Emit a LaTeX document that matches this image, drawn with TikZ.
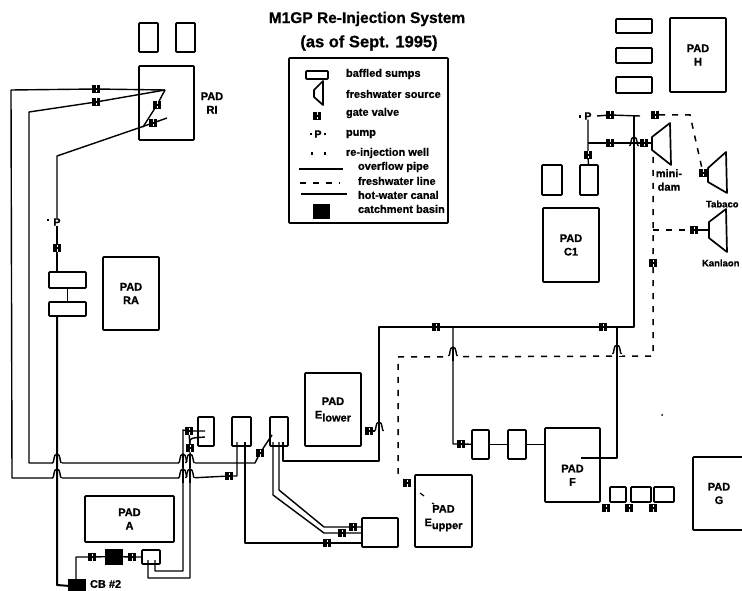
\documentclass[tikz,border=0pt]{standalone}
\usepackage{fontspec}
\setmainfont{Liberation Sans}[BoldFeatures={FakeBold=0.7}]
\begin{document}
\begin{tikzpicture}[x=1pt,y=-1pt,
  every node/.style={font=\fontsize{11}{13.5}\selectfont\bfseries,inner sep=0pt,outer sep=0pt},
  boxs/.style={draw=black,line width=1.7pt,fill=white,align=center,rounded corners=0.8pt},
  pipe/.style={draw=black,line width=1.4pt,line join=round},
  canal/.style={draw=black,line width=2pt,line join=round},
  fresh/.style={draw=black,line width=1.5pt,dash pattern=on 6pt off 7pt},
  tick/.style={draw=black,line width=1.2pt},
  basin/.style={fill=black,draw=black},
  dam/.style={draw=black,line width=1.7pt,line join=round},
  valve/.style={fill=black,minimum width=8pt,minimum height=8pt,path picture={
    \draw[white,line width=1pt] (path picture bounding box.north) ++(0,-0.5pt) -- ++(0,-2.2pt);
    \draw[white,line width=1pt] (path picture bounding box.south) ++(0,0.5pt) -- ++(0,2.2pt);}},
  lab/.style={anchor=west},
  pumpl/.style={font=\fontsize{10.5}{11}\selectfont\bfseries},
  edgelab/.style={anchor=west,font=\fontsize{9.5}{11}\selectfont\bfseries}
]
\newcommand\bx[6]{\node[boxs,minimum width={(#4-#2)*1pt},minimum height={(#5-#3)*1pt}] (#1) at ({(#2+#4)/2},{(#3+#5)/2}) {#6};}
\newcommand\bas[5]{\node[basin,minimum width={(#4-#2)*1pt},minimum height={(#5-#3)*1pt}] (#1) at ({(#2+#4)/2},{(#3+#5)/2}) {};}
\newcommand\vlv[3]{\node[valve] (#1) at (#2,#3) {};}
\newcommand\hump[3][pipe]{%
  \fill[white] (#2-4.5,#3-1.5) rectangle (#2+4.5,#3+1.5);
  \draw[pipe] (#2-4.5,#3) .. controls (#2-2.5,#3) and (#2-4,#3-9) .. (#2,#3-9) .. controls (#2+4,#3-9) and (#2+2.5,#3) .. (#2+4.5,#3);
  \draw[#1] (#2,#3-9) -- (#2,#3+5);}
\useasboundingbox (0,0) rectangle (742,591);
\fill[white] (0,0) rectangle (742,591);

% title
\node[font=\fontsize{15.5}{19}\selectfont\bfseries] (title1) at (367,19) {M1GP Re-Injection System};
\node[font=\fontsize{16.5}{19}\selectfont\bfseries] (title2) at (369,43) {(as of Sept. 1995)};

% legend
\bx{legend}{289}{58}{448}{223}{}
\bx{lgsump}{306}{71}{328}{79}{}
\node[lab] (l1) at (346,74) {baffled sumps};
\draw[dam] (323,81) -- (323,105) -- (314,97) -- (314,90) -- cycle;
\node[lab] (l2) at (346,94) {freshwater source};
\vlv{lgvalve}{317}{116}
\node[lab] (l3) at (346,113) {gate valve};
\node[pumpl] (lgp) at (318,134) {P};
\draw[tick] (311,133) -- (311,135); \draw[tick] (325,133) -- (325,135);
\node[lab] (l4) at (346,134) {pump};
\draw[tick] (312,152) -- (312,155); \draw[tick] (325,152) -- (325,155);
\node[lab] (l5) at (346,153) {re-injection well};
\coordinate (lo1) at (299,169); \coordinate (lo2) at (343,169);
\draw[pipe] (lo1) -- (lo2);
\node[lab] (l6) at (358,167) {overflow pipe};
\coordinate (lf1) at (300,183); \coordinate (lf2) at (340,183);
\draw[fresh] (lf1) -- (lf2);
\node[lab] (l7) at (358,181) {freshwater line};
\coordinate (lh1) at (301,194); \coordinate (lh2) at (347,194);
\draw[canal] (lh1) -- (lh2);
\node[lab] (l8) at (358,195) {hot-water canal};
\bas{lgbasin}{313}{204}{329}{218}
\node[lab] (l9) at (358,209) {catchment basin};

% pads and sumps
\bx{sRI1}{139}{23}{158}{52}{}
\bx{sRI2}{176}{23}{195}{52}{}
\bx{padRI}{139}{66}{194}{140}{}
\node[align=center] (lblRI) at (212,103) {PAD\\RI};
\bx{padRA}{103}{257}{159}{330}{PAD\\RA}
\bx{sRA1}{49}{272}{86}{288}{}
\bx{sRA2}{49}{302}{86}{316}{}
\bx{padA}{85}{496}{174}{542}{PAD\\A}
\bx{padEl}{305}{373}{361}{446}{PAD\\E\raisebox{-3pt}{lower}}
\bx{padEu}{415}{475}{472}{547}{\rule{0pt}{22pt}PAD\\E\raisebox{-3pt}{upper}}
\bx{padF}{545}{428}{600}{502}{\rule{0pt}{28pt}PAD\\F}
\bx{padG}{693}{457}{760}{530}{\hspace*{-15pt}PAD\\\hspace*{-15pt}G}
\bx{padC}{543}{208}{599}{282}{PAD\\C1}
\bx{padH}{670}{18}{726}{92}{PAD\\H}
\bx{sH1}{616}{19}{652}{33}{}
\bx{sH2}{616}{48}{652}{63}{}
\bx{sH3}{616}{77}{652}{93}{}
\bx{sC1}{542}{165}{562}{195}{}
\bx{sC2}{580}{165}{598}{195}{}
\bx{sE1}{198}{417}{214}{446}{}
\bx{sE2}{232}{417}{251}{446}{}
\bx{sE3}{270}{417}{288}{446}{}
\bx{sE4}{362}{518}{398}{547}{}
\bx{sA}{142}{550}{160}{564}{}
\bx{sF1}{472}{430}{489}{459}{}
\bx{sF2}{508}{430}{526}{459}{}
\bx{sF3}{610}{487}{626}{502}{}
\bx{sF4}{631}{487}{651}{502}{}
\bx{sF5}{654}{487}{674}{502}{}
\bas{cb2}{68}{579}{85}{594}
\node[anchor=west] (cblbl) at (90,584) {CB \#2};
\bas{basinA}{105}{549}{122}{564}

% dams
\draw[dam] (652,137) -- (670,123) -- (671,165) -- (652,150) -- cycle;
\draw[dam] (708,168) -- (726,152) -- (727,193) -- (708,182) -- cycle;
\draw[dam] (709,222) -- (726,209) -- (727,252) -- (709,238) -- cycle;
\node[align=center] (lbldam) at (669,180) {mini-\\dam};
\node[edgelab] (lblTab) at (706,204) {Tabaco};
\node[edgelab] (lblKan) at (702,263) {Kanlaon};

% pumps
\node[pumpl] (pA) at (57,222) {P};
\draw[tick] (48,219) -- (48,221);
\node[pumpl] (pB) at (588,116) {P};
\draw[tick] (580,115) -- (580,118);

% valves
\vlv{v1}{96}{89}\vlv{v2}{96}{102}\vlv{v3}{157}{105}\vlv{v4}{153}{123}
\vlv{v5}{57}{248}\vlv{v6}{229}{476}\vlv{v7}{189}{431}\vlv{v8}{190}{448}
\vlv{v9}{92}{557}\vlv{v10}{132}{557}\vlv{v11}{260}{453}
\vlv{v12}{327}{543}\vlv{v13}{342}{533}\vlv{v14}{353}{527}\vlv{v15}{369}{431}
\vlv{v16}{436}{327}\vlv{v17}{603}{327}\vlv{v18}{461}{444}
\vlv{v19}{610}{115}\vlv{v20}{610}{143}\vlv{v21}{588}{155}\vlv{v22}{644}{143}
\vlv{v23}{655}{115}\vlv{v24}{703}{173}\vlv{v25}{694}{230}\vlv{v26}{653}{263}
\vlv{v27}{407}{483}\vlv{v28}{606}{508}\vlv{v29}{629}{508}\vlv{v30}{653}{508}

% named pipe ends
\coordinate (w1) at (165,90);
\coordinate (w2) at (143,127);
\coordinate (w3) at (167,118);
\coordinate (e2a) at (237,442);
\coordinate (e2b) at (245,442);
\coordinate (e3a) at (273,442);
\coordinate (e3b) at (279,442);
\coordinate (e3c) at (283,442);
\coordinate (e3d) at (272,435);
\coordinate (aT1) at (148,560);
\coordinate (aT2) at (155,560);
\coordinate (e1a) at (205,431);
\coordinate (e1b) at (205,437);
\coordinate (f1) at (581,458);
\coordinate (dT) at (640,116);
\coordinate (damIn) at (652,143);

% hot water lines, horizontals first
\draw[pipe] (w1) -- (v1) -- (11,90) -- (12,478) -- (57,478);
\draw[pipe] (57,478) -- (183,478) -- (190,478) -- (v6) -- (237,476) -- (e2a);
\draw[pipe] (w1) -- (v2) -- (29,112) -- (29,463) -- (255,463) -- (v11) -- (e3d);
\hump{57}{463}\hump{57}{478}
\hump{183}{463}\hump{190}{463}\hump{183}{478}\hump{190}{478}
\draw[pipe] (w1) -- (v3) -- (w2);
\draw[pipe] (w3) -- (v4) -- (57,156) -- (pA);
\draw[pipe] (pA) -- (v5) -- (57,272);
\draw[pipe] (sRA1) -- (sRA2);
\draw[canal] (57,316) -- (57,585) -- (cb2);
\draw[pipe] (76,579) -- (76,557) -- (v9) -- (basinA) -- (v10) -- (sA);
\draw[pipe] (aT1) -- (148,578) -- (190,578) -- (190,470) -- (v8) -- (190,441) .. controls (191,438) .. (e1b);
\draw[pipe] (aT2) -- (155,571) -- (183,571) -- (183,430) -- (v7) -- (e1a);
\draw[pipe] (v8) -- (v7);
\draw[pipe] (e2b) -- (245,543) -- (v12) -- (362,543);
\draw[pipe] (e3a) -- (273,495) -- (324,533) -- (v13) -- (362,533);
\draw[pipe] (e3b) -- (279,490) -- (324,527) -- (v14) -- (362,527);
\draw[pipe] (e3c) -- (283,461) -- (379,461) -- (379,327) -- (v16) -- (v17) -- (634,327) -- (634,116);
\draw[pipe] (597,116) -- (v19) -- (dT);
\draw[pipe] (pB) -- (588,143) -- (v21) -- (sC2);
\draw[pipe] (588,143) -- (v20) -- (v22) -- (damIn);
\hump{634}{146}
\hump{379}{431}
\draw[pipe] (v15) -- (375,431);

% freshwater lines
\draw[fresh] (v23) -- (690,115) -- (v24);
\draw[fresh] (653,157) -- (v26) -- (653,356) -- (398,357) -- (398,473) -- (v27);
\draw[fresh] (653,230) -- (v25);
\draw[pipe] (v25) -- (709,230);
\draw[pipe] (v24) -- (708,175);
\draw[pipe] (453,327) -- (453,444) -- (v18) -- (sF1);
\draw[pipe] (sF1) -- (sF2) -- (padF.west|-sF2);
\draw[pipe] (617,327) -- (617,458) -- (f1);
\hump{453}{356}
\hump{617}{354}
\draw[tick] (420,493) -- (424,496);
\draw[tick] (432,503) -- (434,504);
\fill[black] (662,415) circle (1pt);
\end{tikzpicture}
\end{document}
